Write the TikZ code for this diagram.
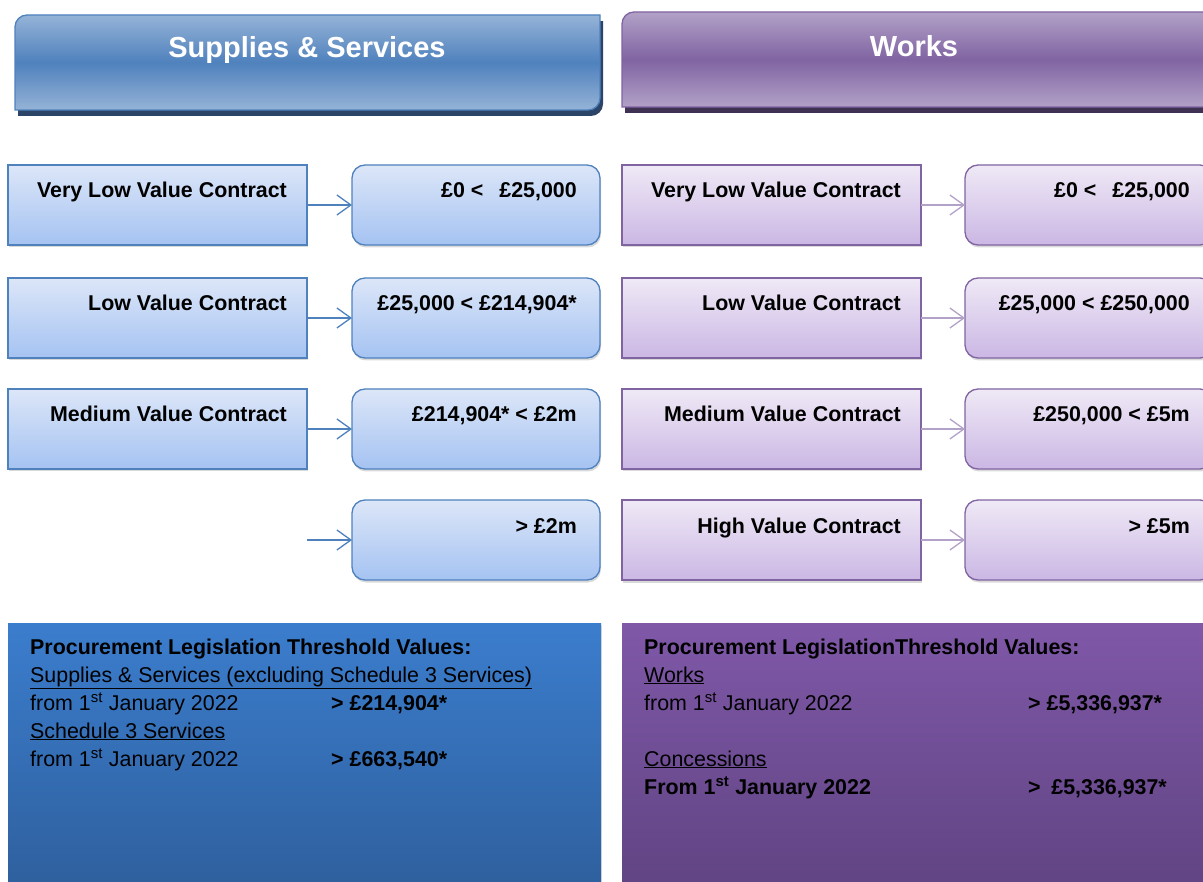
\documentclass[tikz,border=0pt]{standalone}
\usepackage{fontspec}
\setmainfont{Liberation Sans}
\usetikzlibrary{positioning, arrows.meta, shadows}

\definecolor{ssline}{HTML}{4F81BD}
\definecolor{sstop}{HTML}{DCE6F8}
\definecolor{ssbot}{HTML}{A5C3F2}
\definecolor{sshead}{HTML}{95B3D7}
\definecolor{ssshade}{HTML}{2B4468}
\definecolor{sspanelt}{HTML}{3B7DCD}
\definecolor{sspanelb}{HTML}{2E5E9B}
\definecolor{wkline}{HTML}{8064A2}
\definecolor{wktop}{HTML}{EFE9F6}
\definecolor{wkbot}{HTML}{CBB7E4}
\definecolor{wkhead}{HTML}{B2A1C7}
\definecolor{wkshade}{HTML}{3F3151}
\definecolor{wkarrow}{HTML}{B3A2C7}
\definecolor{wkpanelt}{HTML}{7F58A8}
\definecolor{wkpanelb}{HTML}{5F4381}

\tikzset{
  rowbox/.style={draw=#1, line width=1.3pt, minimum width=299pt, minimum height=80pt,
    inner sep=0pt, outer sep=0pt,
    drop shadow={shadow xshift=1pt, shadow yshift=-2.5pt, opacity=.3}},
  valbox/.style={rowbox=#1, minimum width=248pt, rounded corners=13pt},
  sscol/.style={top color=sstop, bottom color=ssbot},
  wkcol/.style={top color=wktop, bottom color=wkbot},
  rowtxt/.style={anchor=base east, inner sep=0pt, font=\fontsize{21.4}{25}\selectfont\bfseries},
  paneltxt/.style={anchor=base west, inner sep=0pt, font=\fontsize{21.4}{25}\selectfont},
  boldtxt/.style={paneltxt, font=\fontsize{21.4}{25}\selectfont\bfseries},
  panel/.style={anchor=north west, minimum width=593pt, minimum height=280pt, inner sep=0pt,
    drop shadow={shadow xshift=1pt, shadow yshift=-2pt, opacity=.25}},
  headtxt/.style={inner sep=0pt, text=white, font=\fontsize{29}{33}\selectfont\bfseries},
  go/.style={draw=#1, line width=1.3pt, -{Straight Barb[length=14pt, width=20pt]}}
}

\begin{document}
\begin{tikzpicture}[x=1pt, y=-1pt]
  \path[use as bounding box, clip] (0,0) rectangle (1203,882);

  % header tabs
  \fill[ssshade] (18,116) -- (18,30) -- (603,21) -- (603,104) arc (0:90:12) -- cycle;
  \draw[draw=ssline, line width=1.3pt, top color=sshead, bottom color=sshead, middle color=ssline]
    (15,110) -- (15,27) arc (180:270:12) -- (600,15) -- (600,98) arc (0:90:12) -- cycle;
  \node[headtxt] (sshd) at (307,50) {Supplies \& Services};

  \fill[wkshade] (625,113) -- (625,30) -- (1220,20) -- (1220,113) -- cycle;
  \draw[draw=wkline, line width=1.3pt, top color=wkhead, bottom color=wkhead, middle color=wkline]
    (622,107) -- (622,24) arc (180:270:12) -- (1230,12) -- (1230,107) -- cycle;
  \node[headtxt] (wkhd) at (914,46) {Works};

  % supplies & services rows
  \node[rowbox=ssline, sscol] (s1) at (157.5,205) {};
  \node[rowbox=ssline, sscol, below=33pt of s1] (s2) {};
  \node[rowbox=ssline, sscol, below=31pt of s2] (s3) {};
  \node[valbox=ssline, sscol, right=45pt of s1] (v1) {};
  \node[valbox=ssline, sscol, right=45pt of s2] (v2) {};
  \node[valbox=ssline, sscol, right=45pt of s3] (v3) {};
  \node[valbox=ssline, sscol, below=31pt of v3] (v4) {};
  \coordinate[left=45pt of v4] (s4);

  \node[rowtxt] (s1t) at ([xshift=-20pt, yshift=-33pt]s1.north east) {Very Low Value Contract};
  \node[rowtxt] (s2t) at ([xshift=-20pt, yshift=-33pt]s2.north east) {Low Value Contract};
  \node[rowtxt] (s3t) at ([xshift=-20pt, yshift=-33pt]s3.north east) {Medium Value Contract};
  \node[rowtxt] (v1t) at ([xshift=-23pt, yshift=-33pt]v1.north east) {£0 <\hspace{0.75em}£25,000};
  \node[rowtxt] (v2t) at ([xshift=-23pt, yshift=-33pt]v2.north east) {£25,000 < £214,904*};
  \node[rowtxt] (v3t) at ([xshift=-23pt, yshift=-33pt]v3.north east) {£214,904* < £2m};
  \node[rowtxt] (v4t) at ([xshift=-23pt, yshift=-33pt]v4.north east) {> £2m};

  \draw[go=ssline] (s1) -- (v1);
  \draw[go=ssline] (s2) -- (v2);
  \draw[go=ssline] (s3) -- (v3);
  \draw[go=ssline] (s4) -- (v4);

  % works rows
  \node[rowbox=wkline, wkcol, right=22pt of v1] (p1) {};
  \node[rowbox=wkline, wkcol, right=22pt of v2] (p2) {};
  \node[rowbox=wkline, wkcol, right=22pt of v3] (p3) {};
  \node[rowbox=wkline, wkcol, right=22pt of v4] (p4) {};
  \node[valbox=wkline, wkcol, right=44pt of p1] (w1) {};
  \node[valbox=wkline, wkcol, right=44pt of p2] (w2) {};
  \node[valbox=wkline, wkcol, right=44pt of p3] (w3) {};
  \node[valbox=wkline, wkcol, right=44pt of p4] (w4) {};

  \node[rowtxt] (p1t) at ([xshift=-20pt, yshift=-33pt]p1.north east) {Very Low Value Contract};
  \node[rowtxt] (p2t) at ([xshift=-20pt, yshift=-33pt]p2.north east) {Low Value Contract};
  \node[rowtxt] (p3t) at ([xshift=-20pt, yshift=-33pt]p3.north east) {Medium Value Contract};
  \node[rowtxt] (p4t) at ([xshift=-20pt, yshift=-33pt]p4.north east) {High Value Contract};
  \node[rowtxt] (w1t) at ([xshift=225pt, yshift=-33pt]w1.north west) {£0 <\hspace{0.75em}£25,000};
  \node[rowtxt] (w2t) at ([xshift=225pt, yshift=-33pt]w2.north west) {£25,000 < £250,000};
  \node[rowtxt] (w3t) at ([xshift=225pt, yshift=-33pt]w3.north west) {£250,000 < £5m};
  \node[rowtxt] (w4t) at ([xshift=225pt, yshift=-33pt]w4.north west) {> £5m};

  \draw[go=wkarrow] (p1) -- (w1);
  \draw[go=wkarrow] (p2) -- (w2);
  \draw[go=wkarrow] (p3) -- (w3);
  \draw[go=wkarrow] (p4) -- (w4);

  % threshold panels
  \node[panel, top color=sspanelt, bottom color=sspanelb] (ssp) at (8,623) {};
  \node[panel, top color=wkpanelt, bottom color=wkpanelb] (wkp) at (622,623) {};

  \node[boldtxt] (ssp1) at (30,654) {Procurement Legislation Threshold Values:};
  \node[paneltxt] (ssp2) at (30,682) {\underline{Supplies \& Services (excluding Schedule 3 Services)}};
  \node[paneltxt] (ssp3) at (30,710) {from 1\textsuperscript{st} January 2022};
  \node[boldtxt] (ssv3) at (331,710) {> £214,904*};
  \node[paneltxt] (ssp4) at (30,738) {\underline{Schedule 3 Services}};
  \node[paneltxt] (ssp5) at (30,766) {from 1\textsuperscript{st} January 2022};
  \node[boldtxt] (ssv5) at (331,766) {> £663,540*};

  \node[boldtxt] (wkp1) at (644,654) {Procurement LegislationThreshold Values:};
  \node[paneltxt] (wkp2) at (644,682) {\underline{Works}};
  \node[paneltxt] (wkp3) at (644,710) {from 1\textsuperscript{st} January 2022};
  \node[boldtxt] (wkv3) at (1028,710) {> £5,336,937*};
  \node[paneltxt] (wkp4) at (644,766) {\underline{Concessions}};
  \node[boldtxt] (wkp5) at (644,794) {From 1\textsuperscript{st} January 2022};
  \node[boldtxt] (wkv5) at (1028,794) {>\hspace{0.5em}£5,336,937*};
\end{tikzpicture}
\end{document}
